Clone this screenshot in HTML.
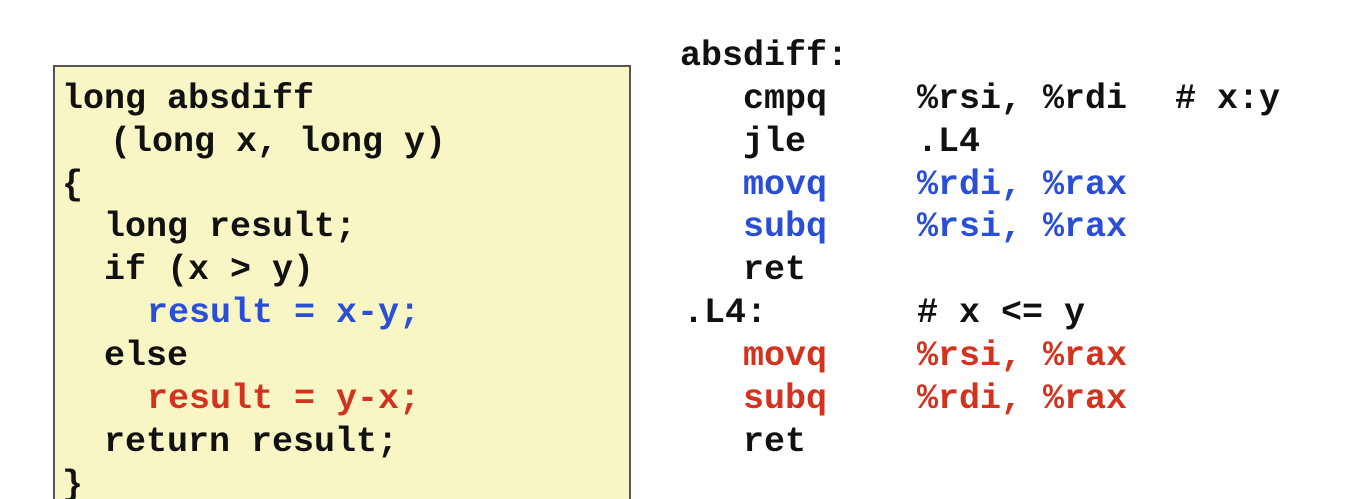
<!DOCTYPE html>
<html style="overflow:hidden;width:1350px;height:499px"><head><meta charset="utf-8"><style>
html,body{margin:0;width:1350px;height:499px;overflow:hidden}
body{background:#fff;position:relative;font-family:"Liberation Mono",monospace;font-weight:bold;font-size:35px;color:#111}
.box{position:absolute;left:53px;top:65px;width:574px;height:440px;background:#f9f6c6;border:2px solid #555;border-bottom:none}
.l{position:absolute;white-space:pre;line-height:43px;height:43px}
.b{color:#2a4fd6}.r{color:#d2321e}
</style></head><body>
<div class="box"></div>
<div class="l" style="left:62px;top:78px">long absdiff</div>
<div class="l" style="left:110px;top:121px">(long x, long y)</div>
<div class="l" style="left:62px;top:164px">{</div>
<div class="l" style="left:104px;top:206px">long result;</div>
<div class="l" style="left:104px;top:249px">if (x &gt; y)</div>
<div class="l b" style="left:147px;top:292px">result = x-y;</div>
<div class="l" style="left:104px;top:335px">else</div>
<div class="l r" style="left:147px;top:378px">result = y-x;</div>
<div class="l" style="left:104px;top:421px">return result;</div>
<div class="l" style="left:62px;top:464px">}</div>

<div class="l" style="left:680px;top:35px">absdiff:</div>
<div class="l" style="left:743px;top:78px">cmpq</div><div class="l" style="left:917px;top:78px">%rsi, %rdi</div><div class="l" style="left:1175px;top:78px"># x:y</div>
<div class="l" style="left:743px;top:121px">jle</div><div class="l" style="left:917px;top:121px">.L4</div>
<div class="l b" style="left:743px;top:164px">movq</div><div class="l b" style="left:917px;top:164px">%rdi, %rax</div>
<div class="l b" style="left:743px;top:206px">subq</div><div class="l b" style="left:917px;top:206px">%rsi, %rax</div>
<div class="l" style="left:743px;top:249px">ret</div>
<div class="l" style="left:683px;top:292px">.L4:</div><div class="l" style="left:917px;top:292px"># x &lt;= y</div>
<div class="l r" style="left:743px;top:335px">movq</div><div class="l r" style="left:917px;top:335px">%rsi, %rax</div>
<div class="l r" style="left:743px;top:378px">subq</div><div class="l r" style="left:917px;top:378px">%rdi, %rax</div>
<div class="l" style="left:743px;top:421px">ret</div>
</body></html>
